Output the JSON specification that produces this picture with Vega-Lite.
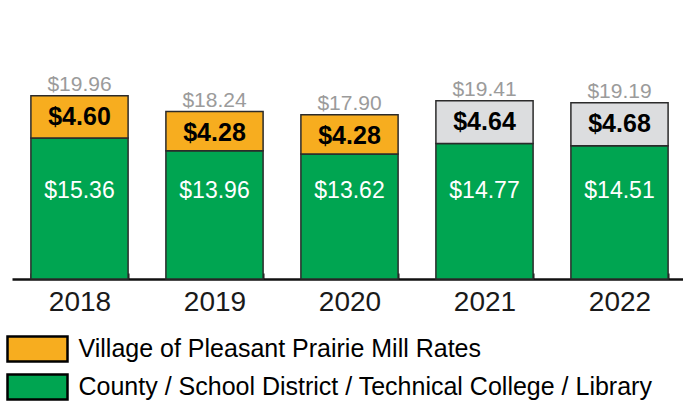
{
  "$schema": "https://vega.github.io/schema/vega-lite/v6.json",
  "autosize": "none",
  "padding": {"left": 12, "top": 0, "right": 0, "bottom": 123},
  "width": 675,
  "height": 279,
  "data": {
    "values": [
      {"year": "2018", "segment": "County / School District / Technical College / Library", "value": 15.36},
      {"year": "2018", "segment": "Village of Pleasant Prairie Mill Rates", "value": 4.60},
      {"year": "2019", "segment": "County / School District / Technical College / Library", "value": 13.96},
      {"year": "2019", "segment": "Village of Pleasant Prairie Mill Rates", "value": 4.28},
      {"year": "2020", "segment": "County / School District / Technical College / Library", "value": 13.62},
      {"year": "2020", "segment": "Village of Pleasant Prairie Mill Rates", "value": 4.28},
      {"year": "2021", "segment": "County / School District / Technical College / Library", "value": 14.77},
      {"year": "2021", "segment": "Village of Pleasant Prairie Mill Rates (projected)", "value": 4.64},
      {"year": "2022", "segment": "County / School District / Technical College / Library", "value": 14.51},
      {"year": "2022", "segment": "Village of Pleasant Prairie Mill Rates (projected)", "value": 4.68}
    ]
  },
  "encoding": {
    "x": {
      "field": "year",
      "type": "ordinal",
      "scale": {"paddingInner": 0.28, "paddingOuter": 0.14},
      "axis": {
        "title": null,
        "domainColor": "#111111",
        "domainWidth": 2.5,
        "tickColor": "#111111",
        "tickWidth": 2,
        "tickSize": -6,
        "tickBand": "extent",
        "labelFontSize": 28,
        "labelFont": "Liberation Sans",
        "labelColor": "#1a1a1a",
        "labelPadding": 15,
        "labelAngle": 0
      }
    }
  },
  "layer": [
    {
      "mark": {"type": "bar", "stroke": "#2b2b2b", "strokeWidth": 1.5},
      "encoding": {
        "y": {"field": "value", "type": "quantitative", "stack": "zero", "scale": {"domain": [0, 30.39], "nice": false}, "axis": null},
        "order": {"field": "segment", "sort": "ascending"},
        "color": {
          "field": "segment",
          "type": "nominal",
          "scale": {
            "domain": ["County / School District / Technical College / Library", "Village of Pleasant Prairie Mill Rates", "Village of Pleasant Prairie Mill Rates (projected)"],
            "range": ["#00A551", "#F7AD1F", "#DCDDDF"]
          },
          "legend": {
            "values": ["Village of Pleasant Prairie Mill Rates", "County / School District / Technical College / Library"],
            "title": null,
            "orient": "none",
            "legendX": 11.5,
            "legendY": 335,
            "direction": "vertical",
            "padding": 0,
            "symbolType": "M-2.4,-1H2.4V1H-2.4Z",
            "symbolSize": 625,
            "symbolStrokeColor": "#000000",
            "symbolStrokeWidth": 2.5,
            "symbolOpacity": 1,
            "labelFontSize": 25,
            "labelFont": "Liberation Sans",
            "labelColor": "#000000",
            "labelOffset": 27,
            "labelLimit": 0,
            "rowPadding": 2
          }
        }
      }
    },
    {
      "transform": [{"aggregate": [{"op": "sum", "field": "value", "as": "total"}], "groupby": ["year"]}],
      "mark": {"type": "text", "baseline": "alphabetic", "dy": -5, "fontSize": 21, "font": "Liberation Sans", "color": "#9B9B9B"},
      "encoding": {
        "y": {"field": "total", "type": "quantitative"},
        "text": {"field": "total", "type": "quantitative", "format": "$.2f"}
      }
    },
    {
      "transform": [
        {"joinaggregate": [{"op": "sum", "field": "value", "as": "total"}], "groupby": ["year"]},
        {"filter": "datum.segment !== 'County / School District / Technical College / Library'"}
      ],
      "mark": {"type": "text", "baseline": "middle", "dy": 21, "fontSize": 25, "fontWeight": "bold", "font": "Liberation Sans", "color": "#000000"},
      "encoding": {
        "y": {"field": "total", "type": "quantitative"},
        "text": {"field": "value", "type": "quantitative", "format": "$.2f"}
      }
    },
    {
      "transform": [{"filter": "datum.segment === 'County / School District / Technical College / Library'"}],
      "mark": {"type": "text", "baseline": "middle", "dy": 1, "fontSize": 23, "font": "Liberation Sans", "color": "#ffffff"},
      "encoding": {
        "y": {"datum": 9.7, "type": "quantitative"},
        "text": {"field": "value", "type": "quantitative", "format": "$.2f"}
      }
    }
  ],
  "config": {
    "view": {"stroke": null}
  }
}
